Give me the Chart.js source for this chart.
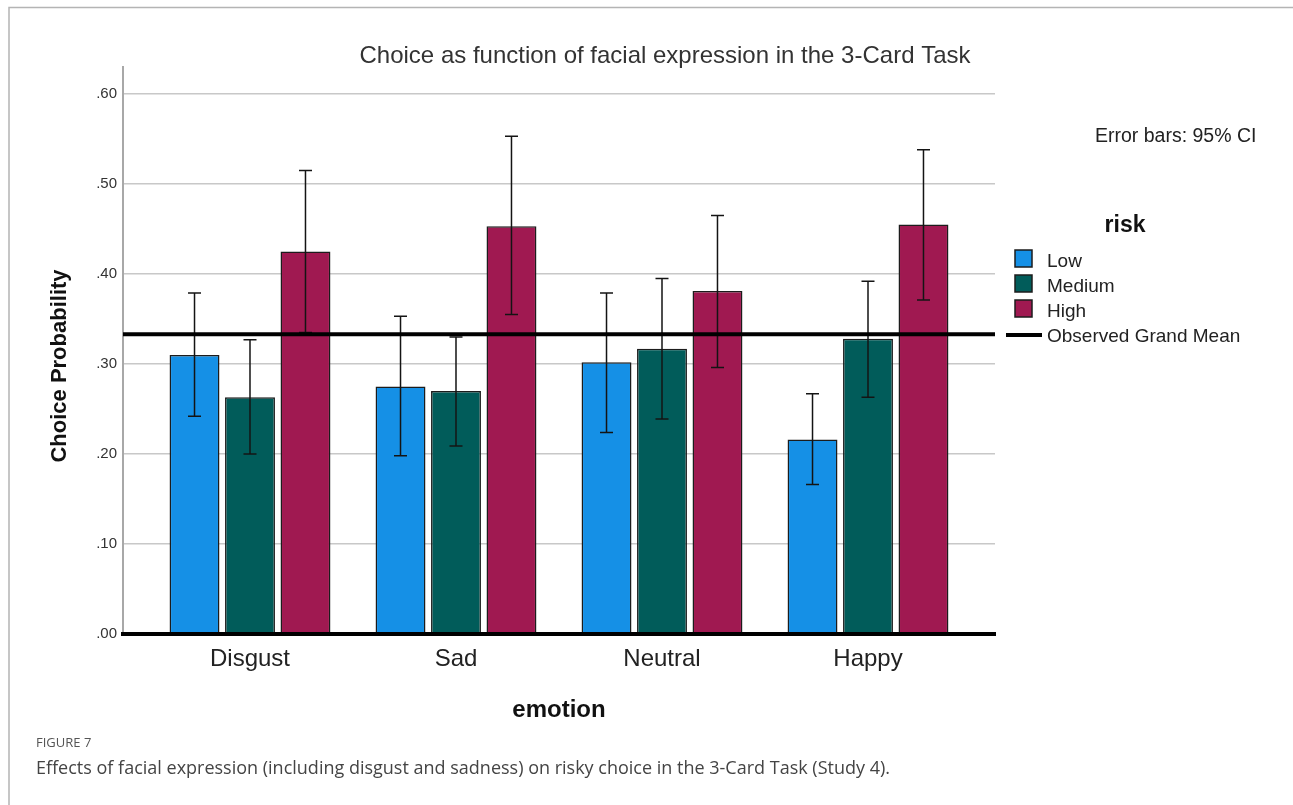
<!DOCTYPE html>
<html>
<head>
<meta charset="utf-8">
<title>Choice as function of facial expression in the 3-Card Task</title>
<script src="https://cdn.jsdelivr.net/npm/chart.js@4.4.1/dist/chart.umd.min.js"></script>
<style>
  html, body { margin: 0; padding: 0; background: #ffffff; }
  canvas { display: block; }
</style>
</head>
<body>
<canvas id="chart" width="1293" height="805"></canvas>
<script>
// Emotion categories on the x axis and the three risk levels
const categories = ['Disgust', 'Sad', 'Neutral', 'Happy'];
const riskLevels = ['Low', 'Medium', 'High'];

// Mean choice probability per emotion, one array per risk level
const lowMean    = [0.310, 0.275, 0.302, 0.216];
const mediumMean = [0.263, 0.270, 0.317, 0.328];
const highMean   = [0.425, 0.453, 0.381, 0.455];

// 95% confidence interval bounds
const lowCiLower    = [0.242, 0.198, 0.224, 0.166];
const lowCiUpper    = [0.379, 0.353, 0.379, 0.267];
const mediumCiLower = [0.200, 0.209, 0.239, 0.263];
const mediumCiUpper = [0.327, 0.330, 0.395, 0.392];
const highCiLower   = [0.335, 0.355, 0.296, 0.371];
const highCiUpper   = [0.515, 0.553, 0.465, 0.538];

// Observed grand mean reference line
const grandMean = 0.333;

// Y axis ticks
const yTickValues = [0, 0.1, 0.2, 0.3, 0.4, 0.5, 0.6];
const yTickLabels = ['.00', '.10', '.20', '.30', '.40', '.50', '.60'];

const riskColors = ['#1590e6', '#015c5a', '#a01951'];

// Category index range, with a margin on both sides of the outer groups
const X_MIN = -0.6165;
const X_MAX = categories.length - 1 + 0.6165;

const FONT = '"Liberation Sans", Arial, sans-serif';
const CAPTION_FONT = '"Open Sans", sans-serif';

const toPoints = arr => arr.map((v, i) => ({ x: i, y: v }));

// Vertical 95% CI whiskers drawn on top of each bar dataset
const errorBarPlugin = {
  id: 'errorBars',
  afterDatasetDraw(chart, args) {
    const ds = chart.data.datasets[args.index];
    if (!ds.ciLower) return;
    const yScale = chart.scales.y;
    const ctx = chart.ctx;
    const cap = 6.5;
    ctx.save();
    ctx.strokeStyle = '#141414';
    ctx.lineWidth = 1.5;
    args.meta.data.forEach((bar, i) => {
      const x = bar.x;
      const yl = yScale.getPixelForValue(ds.ciLower[i]);
      const yu = yScale.getPixelForValue(ds.ciUpper[i]);
      ctx.beginPath();
      ctx.moveTo(x, yl); ctx.lineTo(x, yu);
      ctx.moveTo(x - cap, yu); ctx.lineTo(x + cap, yu);
      ctx.moveTo(x - cap, yl); ctx.lineTo(x + cap, yl);
      ctx.stroke();
    });
    ctx.restore();
  }
};

// Frame, titles, legend, note and caption
const decorPlugin = {
  id: 'decor',
  afterDraw(chart) {
    const ctx = chart.ctx;
    const area = chart.chartArea;
    ctx.save();

    // panel frame (top and left edges)
    ctx.strokeStyle = '#b4b4b4';
    ctx.lineWidth = 1.5;
    ctx.beginPath();
    ctx.moveTo(9, 805); ctx.lineTo(9, 7.5); ctx.lineTo(1293, 7.5);
    ctx.stroke();

    // chart title
    ctx.fillStyle = '#333333';
    ctx.font = '24px ' + FONT;
    ctx.textAlign = 'center';
    ctx.textBaseline = 'alphabetic';
    ctx.fillText('Choice as function of facial expression in the 3-Card Task', 665, 63);

    // y axis title
    ctx.save();
    ctx.translate(66, 366);
    ctx.rotate(-Math.PI / 2);
    ctx.fillStyle = '#111111';
    ctx.font = 'bold 22px ' + FONT;
    ctx.textAlign = 'center';
    ctx.fillText('Choice Probability', 0, 0);
    ctx.restore();

    // x axis title
    ctx.fillStyle = '#111111';
    ctx.font = 'bold 24px ' + FONT;
    ctx.textAlign = 'center';
    ctx.fillText('emotion', (area.left + area.right) / 2, 717);

    // error bar note
    ctx.fillStyle = '#222222';
    ctx.font = '19.5px ' + FONT;
    ctx.textAlign = 'left';
    ctx.fillText('Error bars: 95% CI', 1095, 142);

    // legend
    ctx.font = 'bold 23px ' + FONT;
    ctx.textAlign = 'center';
    ctx.fillStyle = '#111111';
    ctx.fillText('risk', 1125, 232);

    ctx.font = '19px ' + FONT;
    ctx.textAlign = 'left';
    const barSets = chart.data.datasets.filter(d => d.ciLower);
    barSets.forEach((d, i) => {
      const top = 250 + 25 * i;
      ctx.fillStyle = d.backgroundColor;
      ctx.fillRect(1015, top, 17, 17);
      ctx.strokeStyle = '#1c1c1c';
      ctx.lineWidth = 1.5;
      ctx.strokeRect(1015, top, 17, 17);
      ctx.fillStyle = '#222222';
      ctx.fillText(d.label, 1047, 267 + 25 * i);
    });
    const meanSet = chart.data.datasets.find(d => d.type === 'line');
    ctx.strokeStyle = '#000000';
    ctx.lineWidth = 4;
    ctx.beginPath();
    ctx.moveTo(1006, 335); ctx.lineTo(1042, 335);
    ctx.stroke();
    ctx.fillStyle = '#222222';
    ctx.fillText(meanSet.label, 1047, 342);

    // figure caption
    ctx.fillStyle = '#555555';
    ctx.font = '13px ' + CAPTION_FONT;
    ctx.fillText('FIGURE 7', 36, 747);
    ctx.fillStyle = '#444444';
    ctx.font = '18px ' + CAPTION_FONT;
    ctx.fillText('Effects of facial expression (including disgust and sadness) on risky choice in the 3-Card Task (Study 4).', 36, 774);

    ctx.restore();
  }
};

const barDataset = (label, means, lower, upper, color) => ({
  type: 'bar',
  label: label,
  data: toPoints(means),
  ciLower: lower,
  ciUpper: upper,
  backgroundColor: color,
  borderColor: '#1c1c1c',
  borderWidth: 1.5,
  order: 1
});

new Chart(document.getElementById('chart'), {
  type: 'bar',
  data: {
    datasets: [
      barDataset(riskLevels[0], lowMean, lowCiLower, lowCiUpper, riskColors[0]),
      barDataset(riskLevels[1], mediumMean, mediumCiLower, mediumCiUpper, riskColors[1]),
      barDataset(riskLevels[2], highMean, highCiLower, highCiUpper, riskColors[2]),
      {
        type: 'line',
        label: 'Observed Grand Mean',
        data: [{ x: X_MIN, y: grandMean }, { x: X_MAX, y: grandMean }],
        borderColor: '#000000',
        borderWidth: 4,
        pointRadius: 0,
        fill: false,
        order: 0
      }
    ]
  },
  options: {
    responsive: false,
    animation: false,
    layout: { padding: { left: 0, right: 298, top: 67, bottom: 0 } },
    datasets: {
      bar: { categoryPercentage: 0.808, barPercentage: 0.9 }
    },
    plugins: {
      legend: { display: false },
      title: { display: false },
      tooltip: { enabled: false }
    },
    scales: {
      x: {
        type: 'linear',
        min: X_MIN,
        max: X_MAX,
        offset: false,
        grid: { display: false, drawTicks: false },
        border: { display: true, color: '#000000', width: 4, z: 1 },
        afterBuildTicks: axis => { axis.ticks = categories.map((_, i) => ({ value: i })); },
        afterFit: scale => { scale.height = 171; },
        ticks: {
          callback: v => categories[Math.round(v)],
          font: { family: FONT, size: 24 },
          color: '#222222',
          padding: 11,
          maxRotation: 0,
          autoSkip: false
        }
      },
      y: {
        min: 0,
        max: 0.63,
        afterBuildTicks: axis => { axis.ticks = yTickValues.map(v => ({ value: v })); },
        afterFit: scale => { scale.width = 123; },
        grid: { color: '#c8c8c8', lineWidth: 1.5, drawTicks: false },
        border: { color: '#a8a8a8', width: 2 },
        ticks: {
          callback: (v, i) => yTickLabels[i],
          font: { family: FONT, size: 15 },
          color: '#333333',
          padding: 6
        }
      }
    }
  },
  plugins: [errorBarPlugin, decorPlugin]
});
</script>
</body>
</html>
